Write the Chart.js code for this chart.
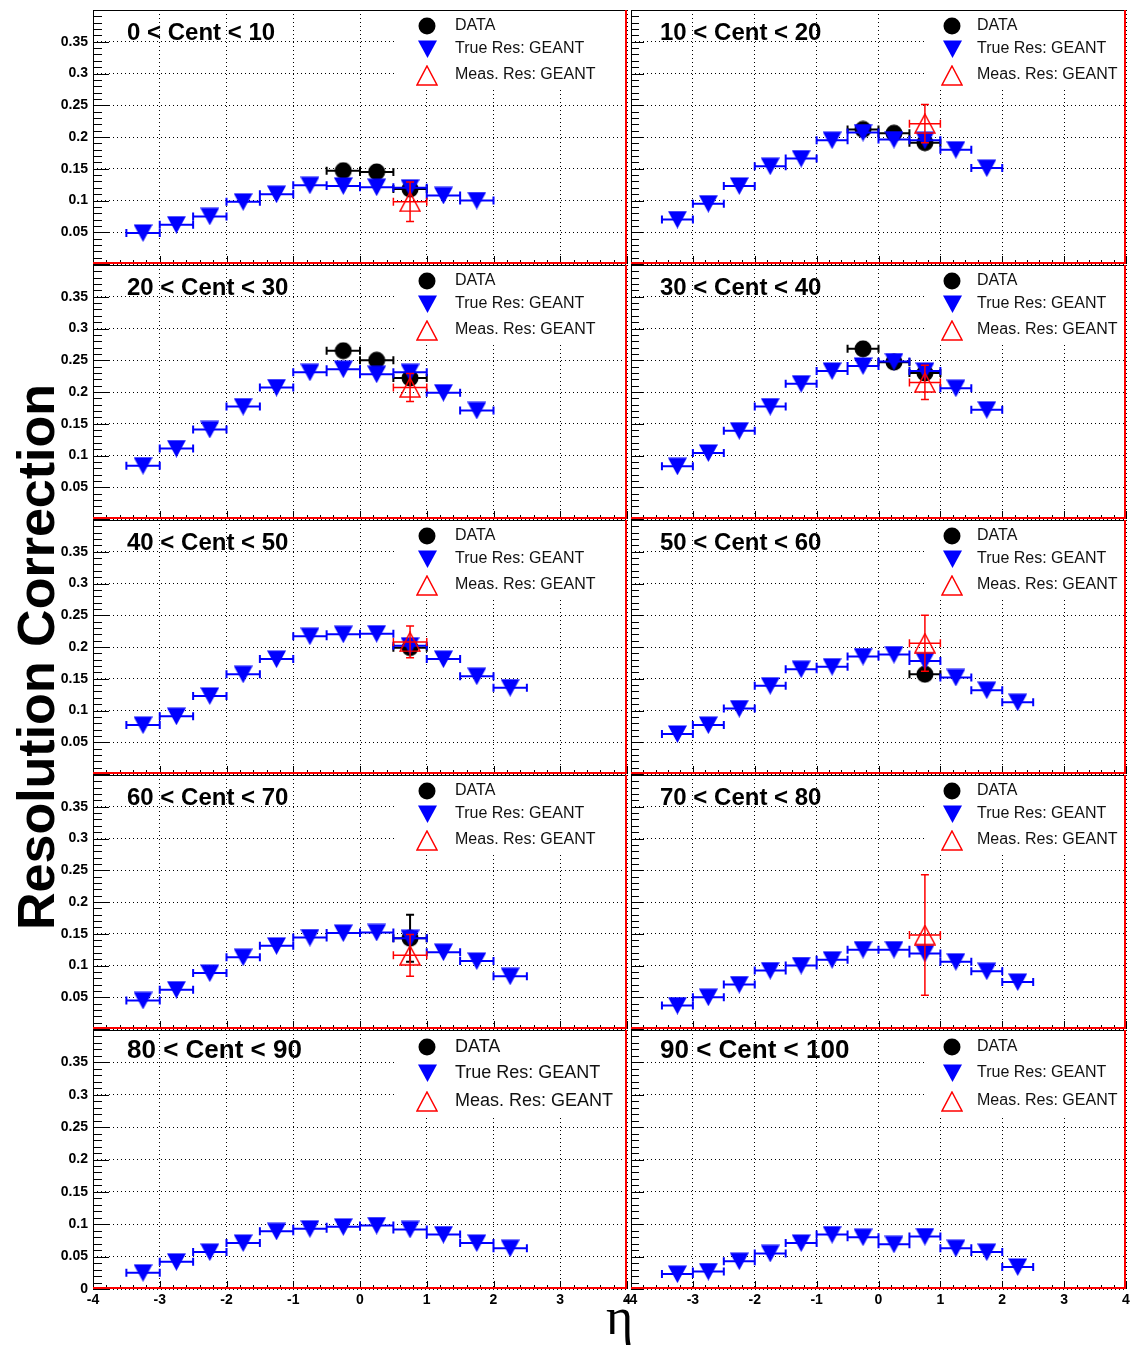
<!DOCTYPE html>
<html>
<head>
<meta charset="utf-8">
<script src="https://cdn.jsdelivr.net/npm/chart.js@4.4.1/dist/chart.umd.min.js"></script>
<style>
    body {
        margin: 0;
        background: #fff;
        width: 1130px;
        height: 1351px;
        position: relative;
        overflow: hidden;
        font-family: "Liberation Sans", Arial, sans-serif;
    }
    canvas {
        position: absolute;
    }
    #ytitle {
        position: absolute;
        left: 36px;
        top: 657px;
        transform: translate(-50%, -50%) rotate(-90deg);
        font: bold 52px "Liberation Sans", Arial, sans-serif;
        line-height: 1;
        white-space: nowrap;
    }
    #xtitle {
        position: absolute;
        left: 606px;
        top: 1291px;
        font: 52px "Liberation Serif", "DejaVu Serif", serif;
        line-height: 1;
    }
</style>
</head>
<body>
<div id="ytitle">Resolution Correction</div>
<div id="xtitle">η</div>
<script>
// eta bins (centres) and half width of a bin
const etaBins = [-3.25, -2.75, -2.25, -1.75, -1.25, -0.75, -0.25, 0.25, 0.75, 1.25, 1.75, 2.25];
const etaHalfWidth = 0.25;

const centLabels = ['0 < Cent < 10', '10 < Cent < 20', '20 < Cent < 30', '30 < Cent < 40', '40 < Cent < 50',
    '50 < Cent < 60', '60 < Cent < 70', '70 < Cent < 80', '80 < Cent < 90', '90 < Cent < 100'];

const legendLabels = ['DATA', 'True Res: GEANT', 'Meas. Res: GEANT'];

// True Res: GEANT, one row per centrality bin
const trueRes = [
    [0.049, 0.062, 0.075, 0.098, 0.110, 0.124, 0.123, 0.121, 0.120, 0.108, 0.100],
    [0.070, 0.095, 0.123, 0.154, 0.166, 0.195, 0.207, 0.196, 0.195, 0.180, 0.151],
    [0.084, 0.111, 0.141, 0.177, 0.207, 0.231, 0.236, 0.228, 0.231, 0.199, 0.171],
    [0.083, 0.104, 0.139, 0.177, 0.213, 0.233, 0.241, 0.248, 0.233, 0.206, 0.172],
    [0.077, 0.091, 0.123, 0.157, 0.181, 0.217, 0.220, 0.221, 0.202, 0.181, 0.154, 0.136],
    [0.063, 0.077, 0.103, 0.139, 0.165, 0.169, 0.185, 0.188, 0.178, 0.152, 0.132, 0.113],
    [0.045, 0.062, 0.088, 0.113, 0.131, 0.144, 0.151, 0.152, 0.143, 0.121, 0.107, 0.083],
    [0.037, 0.050, 0.070, 0.092, 0.100, 0.109, 0.125, 0.125, 0.119, 0.106, 0.091, 0.074],
    [0.025, 0.042, 0.057, 0.071, 0.089, 0.093, 0.096, 0.098, 0.092, 0.084, 0.071, 0.063],
    [0.023, 0.027, 0.043, 0.055, 0.071, 0.084, 0.080, 0.069, 0.081, 0.063, 0.057, 0.034]
];

// DATA points
const dataEta = [-0.25, 0.25, 0.75];
const dataRes = [
    [0.147, 0.145, 0.118],
    [0.212, 0.206, 0.191],
    [0.265, 0.250, 0.222],
    [0.268, 0.247, 0.230],
    [null, null, 0.199],
    [null, null, 0.157],
    [null, null, 0.143],
    [], [], []
];
const dataErr = [
    [0.004, 0.004, 0.004],
    [0.004, 0.004, 0.004],
    [0.004, 0.004, 0.004],
    [0.004, 0.004, 0.004],
    [null, null, 0.008],
    [null, null, 0.008],
    [null, null, 0.037],
    [], [], []
];

// Meas. Res: GEANT, one point at eta = 0.75
const measEta = 0.75;
const measRes = [0.098, 0.221, 0.207, 0.215, 0.208, 0.206, 0.116, 0.148, null, null];
const measErr = [0.031, 0.030, 0.022, 0.027, 0.025, 0.044, 0.033, 0.095, null, null];

// frame rows in page pixels
const frameTop = [10, 265, 520, 775, 1030];
const frameBot = [264, 519, 774, 1029, 1289];

const FONT = '"Liberation Sans", Arial, sans-serif';
Chart.defaults.font.family = FONT;

// ROOT like marker images, used as pointStyle and in the legend
function makeMarker(kind) {
    const c = document.createElement('canvas');
    const ctx = c.getContext('2d');
    if (kind === 'circle') {
        c.width = 18; c.height = 18;
        ctx.beginPath();
        ctx.arc(9, 9, 8.5, 0, Math.PI * 2);
        ctx.fillStyle = '#000';
        ctx.fill();
    } else if (kind === 'down') {
        c.width = 19; c.height = 18;
        ctx.beginPath();
        ctx.moveTo(0, 0.5);
        ctx.lineTo(19, 0.5);
        ctx.lineTo(9.5, 18);
        ctx.closePath();
        ctx.fillStyle = '#0000ff';
        ctx.fill();
    } else {
        c.width = 22; c.height = 21;
        ctx.beginPath();
        ctx.moveTo(11, 1);
        ctx.lineTo(21, 20);
        ctx.lineTo(1, 20);
        ctx.closePath();
        ctx.strokeStyle = '#ff0000';
        ctx.lineWidth = 1.5;
        ctx.stroke();
    }
    return c;
}
const markerData = makeMarker('circle');
const markerTrue = makeMarker('down');
const markerMeas = makeMarker('up');

// error bars, drawn just under the markers of the same dataset
const errorBars = {
    id: 'errorBars',
    beforeDatasetDraw(chart, args) {
        const ds = chart.data.datasets[args.index];
        const xs = chart.scales.x, ys = chart.scales.y;
        const ctx = chart.ctx;
        const cap = 4;
        ctx.save();
        ctx.strokeStyle = ds.errColor;
        ctx.lineWidth = ds.errWidth;
        ctx.beginPath();
        ds.data.forEach(p => {
            const x = xs.getPixelForValue(p.x);
            const y = ys.getPixelForValue(p.y);
            if (p.xe) {
                const x0 = xs.getPixelForValue(p.x - p.xe);
                const x1 = xs.getPixelForValue(p.x + p.xe);
                ctx.moveTo(x0, y); ctx.lineTo(x1, y);
                ctx.moveTo(x0, y - cap); ctx.lineTo(x0, y + cap);
                ctx.moveTo(x1, y - cap); ctx.lineTo(x1, y + cap);
            }
            if (p.ye) {
                const y0 = ys.getPixelForValue(p.y - p.ye);
                const y1 = ys.getPixelForValue(p.y + p.ye);
                ctx.moveTo(x, y0); ctx.lineTo(x, y1);
                ctx.moveTo(x - cap, y0); ctx.lineTo(x + cap, y0);
                ctx.moveTo(x - cap, y1); ctx.lineTo(x + cap, y1);
            }
        });
        ctx.stroke();
        ctx.restore();
    }
};

// legend box + centrality label, on top of the grid
const panelText = {
    id: 'panelText',
    beforeDatasetsDraw(chart) {
        const o = chart.options.plugins.panelText;
        const a = chart.chartArea;
        const ctx = chart.ctx;
        ctx.save();
        ctx.fillStyle = '#fff';
        ctx.fillRect(a.left + o.boxX, a.top + 1, a.right - a.left - o.boxX - 1, o.boxH);

        ctx.fillStyle = '#000';
        ctx.font = 'bold ' + o.titleSize + 'px ' + FONT;
        ctx.textBaseline = 'middle';
        ctx.fillText(o.title, a.left + o.titleX, a.top + o.titleY);

        const marks = [markerData, markerTrue, markerMeas];
        ctx.font = o.legSize + 'px ' + FONT;
        for (let i = 0; i < 3; i++) {
            const y = a.top + o.legY[i];
            const m = marks[i];
            ctx.drawImage(m, Math.round(a.left + o.markX - m.width / 2), Math.round(y - m.height / 2));
            ctx.fillStyle = '#111';
            ctx.fillText(legendLabels[i], a.left + o.textX, y);
        }
        ctx.restore();
    }
};

// ROOT style frame with inward ticks
const frameTicks = {
    id: 'frameTicks',
    afterDraw(chart) {
        const o = chart.options.plugins.frameTicks;
        const a = chart.chartArea;
        const xs = chart.scales.x, ys = chart.scales.y;
        const ctx = chart.ctx;
        ctx.save();
        ctx.strokeStyle = '#000';
        ctx.lineWidth = 1;
        ctx.beginPath();
        for (let k = 0; k <= 40; k++) {
            const y = Math.round(ys.getPixelForValue(k * 0.01)) + 0.5;
            const len = k % 5 === 0 ? o.yMajor : o.yMinor;
            ctx.moveTo(a.left, y); ctx.lineTo(a.left + len, y);
        }
        for (let k = 0; k <= 40; k++) {
            const x = Math.round(xs.getPixelForValue(-4 + k * 0.2)) + 0.5;
            const len = k % 5 === 0 ? 8 : 4;
            ctx.moveTo(x, a.bottom); ctx.lineTo(x, a.bottom - len);
        }
        ctx.stroke();

        ctx.strokeRect(a.left + 0.5, a.top + 0.5, a.right - a.left - 1, a.bottom - a.top - 1);
        ctx.strokeStyle = '#ff0000';
        ctx.lineWidth = 2;
        ctx.beginPath();
        ctx.moveTo(a.left, a.bottom - 1); ctx.lineTo(a.right, a.bottom - 1);
        ctx.moveTo(a.right - 1, a.top); ctx.lineTo(a.right - 1, a.bottom);
        ctx.stroke();
        ctx.restore();
    }
};

function yLabel(v, bottomRow) {
    if (v > 0.39) return '';
    if (v === 0) return bottomRow ? '0' : '';
    return String(Number(v.toFixed(2)));
}

function makePanel(idx) {
    const row = Math.floor(idx / 2);
    const col = idx % 2;
    const bottomRow = row === 4;
    const pad = 16;   // room for the half height of the y tick labels

    const canvas = document.createElement('canvas');
    const left = col === 0 ? 30 : 619;
    const width = col === 0 ? 610 : 520;
    const top = frameTop[row] - pad;
    const frameH = frameBot[row] - frameTop[row];
    const height = bottomRow ? pad + frameH + 24 + 4 : frameH + 2 * pad;
    canvas.width = width;
    canvas.height = height;
    canvas.style.left = left + 'px';
    canvas.style.top = top + 'px';
    document.body.appendChild(canvas);

    const truePts = trueRes[idx].map((y, i) => ({ x: etaBins[i], y: y, xe: etaHalfWidth }));
    const dataPts = [];
    dataRes[idx].forEach((y, i) => {
        if (y !== null) dataPts.push({ x: dataEta[i], y: y, xe: etaHalfWidth, ye: dataErr[idx][i] });
    });
    const measPts = measRes[idx] === null ? [] :
        [{ x: measEta, y: measRes[idx], xe: etaHalfWidth, ye: measErr[idx] }];

    const gridOpts = { color: '#000', lineWidth: 1, drawTicks: false };
    const tickFont = { family: FONT, size: 14, weight: 'bold' };

    new Chart(canvas.getContext('2d'), {
        type: 'scatter',
        data: {
            datasets: [
                {
                    label: legendLabels[2], data: measPts, order: 0,
                    pointStyle: markerMeas,
                    errColor: '#ff0000', errWidth: 1.5
                },
                {
                    label: legendLabels[1], data: truePts, order: 1,
                    pointStyle: markerTrue,
                    errColor: '#0000ff', errWidth: 2
                },
                {
                    label: legendLabels[0], data: dataPts, order: 2,
                    pointStyle: markerData,
                    errColor: '#000', errWidth: 2
                }
            ]
        },
        options: {
            responsive: false,
            animation: false,
            devicePixelRatio: 1,
            events: [],
            layout: {
                padding: {
                    top: pad,
                    bottom: bottomRow ? 4 : pad,
                    left: col === 0 ? 0 : 12,
                    right: 13
                }
            },
            plugins: {
                legend: { display: false },
                tooltip: { enabled: false },
                panelText: {
                    title: centLabels[idx],
                    titleX: col === 0 ? 34 : 29,
                    titleY: bottomRow ? 21 : 23,
                    titleSize: bottomRow ? 26 : 24,
                    boxX: col === 0 ? 303 : 294,
                    boxH: bottomRow ? 84 : 77,
                    markX: col === 0 ? 334 : 321,
                    textX: col === 0 ? 362 : 346,
                    legY: bottomRow ? [17, 43, 71] : [16, 39, 65],
                    legSize: bottomRow && col === 0 ? 18 : 16
                },
                frameTicks: {
                    yMajor: col === 0 ? 16 : 13,
                    yMinor: col === 0 ? 9 : 8
                }
            },
            scales: {
                x: {
                    type: 'linear', min: -4, max: 4,
                    ticks: {
                        stepSize: 1, display: bottomRow, autoSkip: false, maxRotation: 0,
                        padding: 3, font: tickFont, color: '#000',
                        callback: v => String(v)
                    },
                    grid: gridOpts,
                    border: { display: false, dash: [1, 3] },
                    afterFit: s => { s.height = bottomRow ? 24 : 0; }
                },
                y: {
                    type: 'linear', min: 0, max: 0.4,
                    ticks: {
                        stepSize: 0.05, display: col === 0, padding: 5,
                        font: tickFont, color: '#000',
                        callback: v => yLabel(v, bottomRow)
                    },
                    grid: gridOpts,
                    border: { display: false, dash: [1, 3] },
                    afterFit: s => { s.width = col === 0 ? 63 : 0; }
                }
            }
        },
        plugins: [errorBars, panelText, frameTicks]
    });
}

for (let i = 0; i < 10; i++) {
    makePanel(i);
}
</script>
</body>
</html>
